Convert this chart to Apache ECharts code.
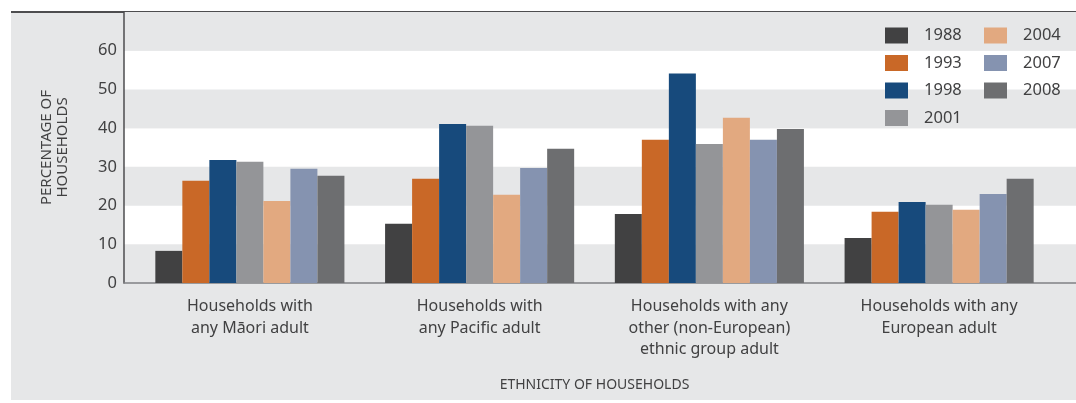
<!DOCTYPE html>
<html>
<head>
<meta charset="utf-8">
<script src="https://cdn.jsdelivr.net/npm/echarts@6/dist/echarts.min.js"></script>
<style>
  html, body { margin: 0; padding: 0; background: #ffffff; }
  #wrap { position: relative; width: 1076px; height: 403px; overflow: hidden; }
  #bg { position: absolute; left: 11px; top: 11px; width: 1065px; height: 389px; background: #e6e7e8; border-top: 2px solid #4d4d4f; box-sizing: border-box; }
  #chart { position: absolute; left: 0; top: 0; width: 1076px; height: 403px; }
</style>
</head>
<body>
<div id="wrap"><div id="bg"></div><div id="chart"></div></div>
<script>
const categories = [
  'Households with\nany M\u0101ori adult',
  'Households with\nany Pacific adult',
  'Households with any\nother (non-European)\nethnic group adult',
  'Households with any\nEuropean adult'
];
const years = ['1988', '1993', '1998', '2001', '2004', '2007', '2008'];
const v1988 = [8.3, 15.3, 17.8, 11.6];
const v1993 = [26.4, 26.9, 37.0, 18.4];
const v1998 = [31.8, 41.1, 54.1, 20.9];
const v2001 = [31.3, 40.6, 35.9, 20.2];
const v2004 = [21.2, 22.8, 42.7, 18.9];
const v2007 = [29.5, 29.7, 37.0, 23.0];
const v2008 = [27.7, 34.7, 39.8, 26.9];
const yTicks = [0, 10, 20, 30, 40, 50, 60];
const yMax = 70;

const seriesValues = [v1988, v1993, v1998, v2001, v2004, v2007, v2008];
const colors = ['#414142', '#c96827', '#174a7c', '#949598', '#e2a980', '#8593b0', '#6d6e70'];
const textColor = '#414142';
const font = 'Noto Sans';

const chart = echarts.init(document.getElementById('chart'), null, { renderer: 'canvas' });

const legendBase = {
  orient: 'vertical',
  top: 22,
  itemWidth: 23,
  itemHeight: 16,
  itemGap: 10.5,
  icon: 'rect',
  selectedMode: false,
  textStyle: { color: textColor, fontFamily: font, fontSize: 16.5, lineHeight: 16, padding: [0, 0, 0, 11] }
};

chart.setOption({
  backgroundColor: 'transparent',
  animation: false,
  color: colors,
  legend: [
    Object.assign({}, legendBase, { left: 880, data: years.slice(0, 4) }),
    Object.assign({}, legendBase, { left: 979, data: years.slice(4) })
  ],
  grid: [
    { left: 124, right: 0, top: 12, bottom: 120 },
    { left: 135, right: 22, top: 12, bottom: 120 }
  ],
  xAxis: [
    {
      gridIndex: 0, type: 'value', min: 0, max: 1,
      axisLine: { show: true, lineStyle: { color: '#808184', width: 1.5 } },
      axisTick: { show: false }, axisLabel: { show: false }, splitLine: { show: false }
    },
    {
      gridIndex: 1, type: 'category', data: categories,
      axisLine: { show: false }, axisTick: { show: false },
      axisLabel: { color: textColor, fontFamily: font, fontSize: 16, lineHeight: 21.5, margin: 13 },
      name: 'ETHNICITY OF HOUSEHOLDS', nameLocation: 'middle', nameGap: 95,
      nameTextStyle: { color: textColor, fontFamily: font, fontSize: 14 }
    }
  ],
  yAxis: [
    {
      gridIndex: 0, type: 'value', min: 0, max: yMax, interval: 10,
      axisLine: { show: true, lineStyle: { color: '#4d4d4f', width: 1.5 } },
      axisTick: { show: false },
      axisLabel: {
        color: textColor, fontFamily: font, fontSize: 16.5, margin: 7,
        formatter: v => (yTicks.indexOf(v) >= 0 ? String(v) : '')
      },
      splitLine: { show: false },
      splitArea: { show: true, areaStyle: { color: ['#e6e7e8', '#ffffff'] } },
      name: 'PERCENTAGE OF\nHOUSEHOLDS', nameLocation: 'middle', nameGap: 53, nameRotate: 90,
      nameTextStyle: { color: textColor, fontFamily: font, fontSize: 15, lineHeight: 16 }
    },
    {
      gridIndex: 1, type: 'value', min: 0, max: yMax, interval: 10, show: false
    }
  ],
  series: years.map((y, i) => ({
    name: y,
    type: 'bar',
    xAxisIndex: 1,
    yAxisIndex: 1,
    data: seriesValues[i],
    barGap: '0%',
    barCategoryGap: '17.7%',
    itemStyle: { color: colors[i] }
  }))
});
</script>
</body>
</html>
